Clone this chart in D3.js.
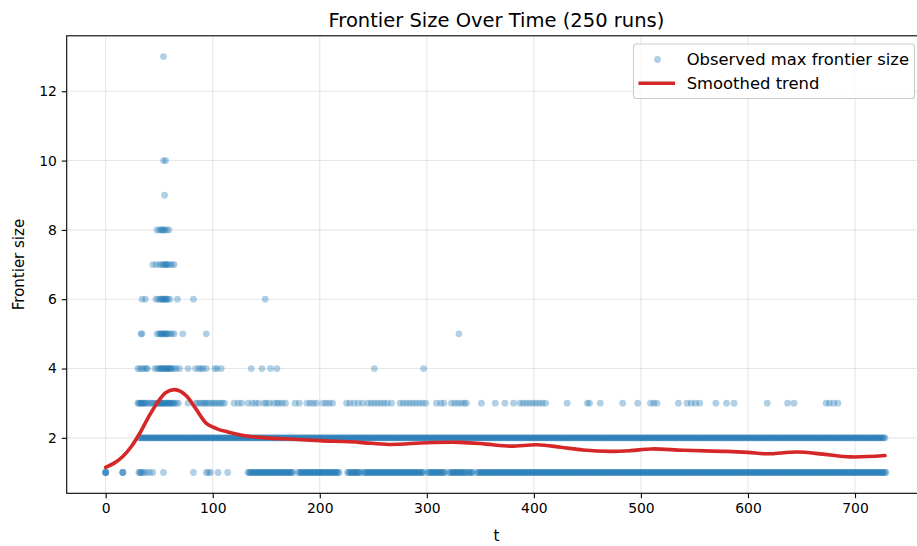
<!DOCTYPE html>
<html><head><meta charset="utf-8">
<script src="https://cdn.jsdelivr.net/npm/d3@7"></script>
<style>body{margin:0;background:#fff}svg{display:block}text{font-family:"DejaVu Sans",sans-serif;fill:#000}</style>
</head><body><svg id="c" width="917" height="546"></svg>
<script>
// Observed max frontier size: t values at which each size was observed
const sizeLevels = [1,2,3,4,5,6,7,8,9,10,13];
const tSize13 = [54];
const tSize10 = [54,56];
const tSize9 = [55];
const tSize8 = [48,50,52,53,54,55,57,59];
const tSize7 = [44,47,50,52,54,55,56,57,58,60,62,64];
const tSize6 = [34,37,47,49,51,52,53,54,55,56,57,58,60,67,82,149];
const tSize5 = [33,34,48,50,51,52,53,54,55,56,57,58,60,62,64,72,94,330];
const tSize4 = [30,32,34,36,38,39,46,48,50,51,52,53,54,55,56,57,58,59,60,61,62,64,66,69,77,84,87,89,91,94,102,104,108,136,146,154,160,251,297];
const tSize3 = [30,31,32,33,34,35,36,37,38,40,42,43,45,47,48,49,50,51,52,53,54,55,56,57,58,59,60,61,62,63,64,66,68,77,84,86,88,90,92,93,95,97,99,101,103,105,107,109,111,120,124,127,133,137,140,143,148,150,153,157,160,162,165,168,177,181,188,191,194,197,203,206,209,212,225,228,232,236,240,245,248,251,254,257,260,263,267,275,278,281,284,287,290,293,296,299,309,313,316,323,326,329,332,335,337,351,364,373,381,387,390,393,396,399,402,405,408,411,431,450,452,462,483,497,509,512,515,535,543,547,551,555,570,580,587,618,637,643,673,676,680,684];
const tSize2 = [31,32,33,34,35,36,37,38,39,40,41,42,43,44,45,46,47,48,49,50,51,52,53,54,55,56,57,58,59,60,61,62,63,64,65,66,67,68,69,70,71,72,73,74,75,76,77,78,79,80,81,82,83,84,85,86,87,88,89,90,91,92,93,94,95,96,97,98,99,100,101,102,103,104,105,106,107,108,109,110,111,112,113,114,115,116,117,118,119,120,121,122,123,124,125,126,127,128,129,130,131,132,133,134,135,136,137,138,139,140,141,142,143,144,145,146,147,148,149,150,151,152,153,154,155,156,157,158,159,160,161,162,163,164,165,166,167,168,169,170,171,172,173,174,175,176,177,178,179,180,181,182,183,184,185,186,187,188,189,190,191,192,193,194,195,196,197,198,199,200,201,202,203,204,205,206,207,208,209,210,211,212,213,214,215,216,217,218,219,220,221,222,223,224,225,226,227,228,229,230,231,232,233,234,235,236,237,238,239,240,241,242,243,244,245,246,247,248,249,250,251,252,253,254,255,256,257,258,259,260,261,262,263,264,265,266,267,268,269,270,271,272,273,274,275,276,277,278,279,280,281,282,283,284,285,286,287,288,289,290,291,292,293,294,295,296,297,298,299,300,301,302,303,304,305,306,307,308,309,310,311,312,313,314,315,316,317,318,319,320,321,322,323,324,325,326,327,328,329,330,331,332,333,334,335,336,337,338,339,340,341,342,343,344,345,346,347,348,349,350,351,352,353,354,355,356,357,358,359,360,361,362,363,364,365,366,367,368,369,370,371,372,373,374,375,376,377,378,379,380,381,382,383,384,385,386,387,388,389,390,391,392,393,394,395,396,397,398,399,400,401,402,403,404,405,406,407,408,409,410,411,412,413,414,415,416,417,418,419,420,421,422,423,424,425,426,427,428,429,430,431,432,433,434,435,436,437,438,439,440,441,442,443,444,445,446,447,448,449,450,451,452,453,454,455,456,457,458,459,460,461,462,463,464,465,466,467,468,469,470,471,472,473,474,475,476,477,478,479,480,481,482,483,484,485,486,487,488,489,490,491,492,493,494,495,496,497,498,499,500,501,502,503,504,505,506,507,508,509,510,511,512,513,514,515,516,517,518,519,520,521,522,523,524,525,526,527,528,529,530,531,532,533,534,535,536,537,538,539,540,541,542,543,544,545,546,547,548,549,550,551,552,553,554,555,556,557,558,559,560,561,562,563,564,565,566,567,568,569,570,571,572,573,574,575,576,577,578,579,580,581,582,583,584,585,586,587,588,589,590,591,592,593,594,595,596,597,598,599,600,601,602,603,604,605,606,607,608,609,610,611,612,613,614,615,616,617,618,619,620,621,622,623,624,625,626,627,628,629,630,631,632,633,634,635,636,637,638,639,640,641,642,643,644,645,646,647,648,649,650,651,652,653,654,655,656,657,658,659,660,661,662,663,664,665,666,667,668,669,670,671,672,673,674,675,676,677,678,679,680,681,682,683,684,685,686,687,688,689,690,691,692,693,694,695,696,697,698,699,700,701,702,703,704,705,706,707,708,709,710,711,712,713,714,715,716,717,718,719,720,721,722,723,724,725,726,727,728];
const tSize1 = [0,0,0,0,16,16,16,31,32,33,34,36,38,41,44,54,82,94,96,98,105,114,133,134,135,136,137,138,139,140,141,142,143,144,145,146,147,148,149,150,151,152,153,154,155,156,157,158,159,160,161,162,163,164,165,166,167,168,169,170,171,172,173,174,175,180,181,182,183,184,185,186,187,188,189,190,191,192,193,194,195,196,197,198,199,200,201,202,203,204,205,206,207,208,209,210,211,212,213,214,215,216,217,218,226,227,228,229,230,231,232,233,234,235,236,237,238,241,242,243,244,245,246,247,248,249,250,251,252,253,254,255,256,257,258,259,260,261,262,263,264,265,266,267,268,269,270,271,272,273,274,275,276,277,278,279,280,281,282,283,284,285,286,287,288,289,290,291,292,293,294,295,296,297,301,302,303,304,305,306,307,308,309,310,311,312,313,314,315,316,317,321,322,323,324,325,326,327,328,329,330,331,332,333,334,335,336,337,339,340,341,342,343,347,348,349,350,351,352,353,354,355,356,357,358,359,360,361,362,363,364,365,366,367,368,369,370,371,372,373,374,375,376,377,378,379,380,381,382,383,384,385,386,387,388,389,390,391,392,393,394,395,396,397,398,399,400,401,402,403,404,405,406,407,408,409,410,411,412,413,414,415,416,417,418,419,420,421,422,423,424,425,426,427,428,429,430,431,432,433,434,435,436,437,438,439,440,441,442,443,444,445,446,447,448,449,450,451,452,453,454,455,456,457,458,459,460,461,462,463,464,465,466,467,468,469,470,471,472,473,474,475,476,477,478,479,480,481,482,483,484,485,486,487,488,489,490,491,492,493,494,495,496,497,498,499,500,501,502,503,504,505,506,507,508,509,510,511,512,513,514,515,516,517,518,519,520,521,522,523,524,525,526,527,528,529,530,531,532,533,534,535,536,537,538,539,540,541,542,543,544,545,546,547,548,549,550,551,552,553,554,555,556,557,558,559,560,561,562,563,564,565,566,567,568,569,570,571,572,573,574,575,576,577,578,579,580,581,582,583,584,585,586,587,588,589,590,591,592,593,594,595,596,597,598,599,600,601,602,603,604,605,606,607,608,609,610,611,612,613,614,615,616,617,618,619,620,621,622,623,624,625,626,627,628,629,630,631,632,633,634,635,636,637,638,639,640,641,642,643,644,645,646,647,648,649,650,651,652,653,654,655,656,657,658,659,660,661,662,663,664,665,666,667,668,669,670,671,672,673,674,675,676,677,678,679,680,681,682,683,684,685,686,687,688,689,690,691,692,693,694,695,696,697,698,699,700,701,702,703,704,705,706,707,708,709,710,711,712,713,714,715,716,717,718,719,720,721,722,723,724,725,726,727,728,729];

// Smoothed trend
const trendT = [0,8,16,24,32,40,48,56,64,70,76,84,94,104,114,125,135,150,175,200,237,265,300,331,355,378,403,425,446,471,490,510,540,580,600,618,646,670,696,728];
const trendY = [1.15,1.27,1.46,1.75,2.14,2.6,3.0,3.3,3.39,3.34,3.19,2.85,2.42,2.26,2.17,2.09,2.04,2.0,1.96,1.92,1.87,1.81,1.86,1.87,1.82,1.76,1.80,1.73,1.65,1.61,1.63,1.68,1.64,1.61,1.58,1.54,1.59,1.53,1.45,1.49];

const xTicks = [0,100,200,300,400,500,600,700];
const yTicks = [2,4,6,8,10,12];

const rowsByLevel = {1:tSize1,2:tSize2,3:tSize3,4:tSize4,5:tSize5,6:tSize6,7:tSize7,8:tSize8,9:tSize9,10:tSize10,13:tSize13};
const points = [];
sizeLevels.forEach(s => rowsByLevel[s].forEach(t => points.push({t, s})));
const trend = trendT.map((t,i)=>({t, y:trendY[i]}));

const svg = d3.select("#c");
const L = 66.7, R = 926.1, T = 35.8, B = 493.3;
const x = d3.scaleLinear().domain([-36.4, 766.4]).range([L, R]);
const y = d3.scaleLinear().domain([0.4, 13.6]).range([B, T]);

svg.append("defs").append("clipPath").attr("id","clip")
  .append("rect").attr("x",L).attr("y",T).attr("width",R-L).attr("height",B-T);

// grid
const g = svg.append("g");
g.selectAll(".gx").data(xTicks).join("line")
  .attr("x1",d=>x(d)).attr("x2",d=>x(d)).attr("y1",T).attr("y2",B)
  .attr("stroke","#b0b0b0").attr("stroke-opacity",0.3).attr("stroke-width",1.1);
g.selectAll(".gy").data(yTicks).join("line")
  .attr("x1",L).attr("x2",R).attr("y1",d=>y(d)).attr("y2",d=>y(d))
  .attr("stroke","#b0b0b0").attr("stroke-opacity",0.3).attr("stroke-width",1.1);

// points
const pg = svg.append("g").attr("clip-path","url(#clip)");
pg.selectAll("circle").data(points).join("circle")
  .attr("cx",d=>x(d.t)).attr("cy",d=>y(d.s)).attr("r",3.4)
  .attr("fill","#1f77b4").attr("fill-opacity",0.35);

// trend
const line = d3.line().x(d=>x(d.t)).y(d=>y(d.y)).curve(d3.curveCatmullRom.alpha(0.5));
pg.append("path").datum(trend).attr("d",line)
  .attr("fill","none").attr("stroke","#d62728").attr("stroke-width",3.6)
  .attr("stroke-linejoin","round").attr("stroke-linecap","round");

// axes
const xAxis = d3.axisBottom(x).tickValues(xTicks).tickSize(4.9).tickPadding(4.9).tickFormat(d3.format("d"));
const yAxis = d3.axisLeft(y).tickValues(yTicks).tickSize(4.9).tickPadding(4.9).tickFormat(d3.format("d"));
const ax = svg.append("g").attr("transform",`translate(0,${B})`).call(xAxis);
const ay = svg.append("g").attr("transform",`translate(${L},0)`).call(yAxis);
[ax,ay].forEach(a=>{
  a.select(".domain").remove();
  a.selectAll(".tick line").attr("stroke","#000").attr("stroke-width",1.1);
  a.selectAll(".tick text").attr("font-size","13.9px").attr("font-family","DejaVu Sans").attr("fill","#000");
});
// spines
svg.append("rect").attr("x",L).attr("y",T).attr("width",R-L).attr("height",B-T)
  .attr("fill","none").attr("stroke","#000").attr("stroke-width",1.1);

// title & labels
svg.append("text").attr("x",(L+R)/2).attr("y",27).attr("text-anchor","middle")
  .attr("font-size","19.5px").text("Frontier Size Over Time (250 runs)");
svg.append("text").attr("x",(L+R)/2).attr("y",541).attr("text-anchor","middle")
  .attr("font-size","15px").text("t");
svg.append("text").attr("transform",`translate(24,${(T+B)/2}) rotate(-90)`).attr("text-anchor","middle")
  .attr("font-size","15px").text("Frontier size");

// legend
const lg = svg.append("g");
lg.append("rect").attr("x",633.5).attr("y",44).attr("width",281).attr("height",54.5).attr("rx",3)
  .attr("fill","#fff").attr("fill-opacity",0.8).attr("stroke","#cccccc").attr("stroke-width",1.1);
lg.append("circle").attr("cx",657.5).attr("cy",59.5).attr("r",3.4).attr("fill","#1f77b4").attr("fill-opacity",0.35);
lg.append("line").attr("x1",638.5).attr("x2",675).attr("y1",83.3).attr("y2",83.3)
  .attr("stroke","#d62728").attr("stroke-width",3.6);
lg.append("text").attr("x",686.7).attr("y",65).attr("font-size","16.4px").text("Observed max frontier size");
lg.append("text").attr("x",686.7).attr("y",89).attr("font-size","16.4px").text("Smoothed trend");
</script></body></html>
